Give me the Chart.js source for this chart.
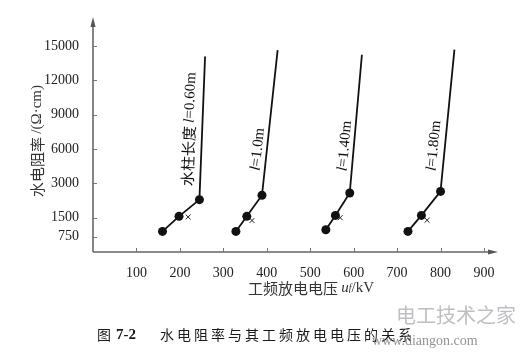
<!DOCTYPE html>
<html>
<head>
<meta charset="utf-8">
<script src="https://cdn.jsdelivr.net/npm/chart.js@4/dist/chart.umd.min.js"></script>
<style>
  html, body { margin: 0; padding: 0; background: #fff; }
  canvas { display: block; }
</style>
</head>
<body>
<canvas id="chart" width="520" height="354"></canvas>
<script>
// 軸の目盛り
const xTickValues = [100, 200, 300, 400, 500, 600, 700, 800, 900];
const yTickValues = [750, 1500, 3000, 6000, 9000, 12000, 15000];
const yTickLabels = ["750", "1500", "3000", "6000", "9000", "12000", "15000"];

// 水柱の長さごとの測定値 (工频放电电压 kV, 水电阻率 Ω·cm)
const voltage060 = [160, 198, 245, 258];
const resist060 = [955, 1560, 2290, 14100];
const voltage100 = [329, 354, 389, 425];
const resist100 = [955, 1560, 2480, 14650];
const voltage140 = [536, 558, 591, 619];
const resist140 = [1020, 1600, 2580, 14250];
const voltage180 = [725, 756, 800, 832];
const resist180 = [955, 1600, 2650, 14700];

// ×印の点
const crossVoltage = [219, 366, 569, 769];
const crossResist = [1530, 1390, 1500, 1400];

const lineLabels = [
  ["水柱长度 ", "l", "=0.60m"],
  ["", "l", "=1.0m"],
  ["", "l", "=1.40m"],
  ["", "l", "=1.80m"],
];

// 縦軸は等間隔ではないので、目盛りの位置を段で決める
const yAxisKnots = [0, 750, 1500, 3000, 6000, 9000, 12000, 15000];
const yAxisSlots = [-1, -0.55, 0, 1, 2, 3, 4, 5];

function toSlot(v) {
  for (let i = 1; i < yAxisKnots.length; i++) {
    if (v <= yAxisKnots[i] || i === yAxisKnots.length - 1) {
      const a = yAxisKnots[i - 1], b = yAxisKnots[i];
      const t = (v - a) / (b - a);
      return yAxisSlots[i - 1] + t * (yAxisSlots[i] - yAxisSlots[i - 1]);
    }
  }
}

const SERIF = "'Liberation Serif', 'DejaVu Serif', serif";
const CJK = "'Noto Sans CJK SC', sans-serif";

const seriesList = [
  [voltage060, resist060],
  [voltage100, resist100],
  [voltage140, resist140],
  [voltage180, resist180],
];

const lineSets = seriesList.map(([xs, ys]) => ({
  data: xs.map((x, i) => ({ x: x, y: toSlot(ys[i]) })),
  showLine: true,
  borderColor: "#111",
  borderWidth: 1.8,
  backgroundColor: "#111",
  pointRadius: [4.5, 4.5, 4.5, 0],
  pointBorderWidth: 0,
}));

const crossSet = {
  data: crossVoltage.map((x, i) => ({ x: x, y: toSlot(crossResist[i]) })),
  showLine: false,
  pointStyle: "crossRot",
  pointRadius: 3.5,
  borderColor: "#222",
  borderWidth: 1,
};

// 注釈ラベルの位置 (線上の抵抗率と線からの距離)
const labelAt = [7700, 5900, 6200, 6200];
const labelGap = [13, 9, 9, 11];

function drawParts(ctx, parts, fonts, cx, cy) {
  let total = 0;
  const widths = parts.map((p, i) => {
    ctx.font = fonts[i];
    const w = ctx.measureText(p).width;
    total += w;
    return w;
  });
  let x = cx - total / 2;
  parts.forEach((p, i) => {
    ctx.font = fonts[i];
    ctx.fillText(p, x, cy);
    x += widths[i];
  });
}

const decorPlugin = {
  id: "decor",
  afterDraw(chart) {
    const ctx = chart.ctx;
    const area = chart.chartArea;
    const xs = chart.scales.x;
    const ys = chart.scales.y;
    const ox = area.left, oy = area.bottom;

    ctx.save();
    // 軸と矢印
    ctx.strokeStyle = "#666";
    ctx.fillStyle = "#555";
    ctx.lineWidth = 1.6;
    ctx.beginPath();
    ctx.moveTo(ox, oy);
    ctx.lineTo(ox, area.top + 6);
    ctx.moveTo(ox, oy);
    ctx.lineTo(area.right - 6, oy);
    ctx.stroke();
    ctx.beginPath();
    ctx.moveTo(ox, area.top);
    ctx.lineTo(ox - 2.6, area.top + 10);
    ctx.lineTo(ox + 2.6, area.top + 10);
    ctx.closePath();
    ctx.fill();
    ctx.beginPath();
    ctx.moveTo(area.right + 1, oy);
    ctx.lineTo(area.right - 9, oy - 2.6);
    ctx.lineTo(area.right - 9, oy + 2.6);
    ctx.closePath();
    ctx.fill();

    // 内向きの目盛り線
    ctx.lineWidth = 1;
    ctx.strokeStyle = "#777";
    ctx.beginPath();
    xTickValues.forEach((v) => {
      const px = Math.round(xs.getPixelForValue(v)) + 0.5;
      ctx.moveTo(px, oy);
      ctx.lineTo(px, oy - 4);
    });
    yTickValues.forEach((v) => {
      const py = Math.round(ys.getPixelForValue(toSlot(v))) + 0.5;
      ctx.moveTo(ox, py);
      ctx.lineTo(ox + 4, py);
    });
    ctx.stroke();

    // 各線の注釈 (線に沿って回転)
    ctx.fillStyle = "#111";
    ctx.textBaseline = "middle";
    seriesList.forEach(([vx, vy], i) => {
      const x1 = xs.getPixelForValue(vx[2]), y1 = ys.getPixelForValue(toSlot(vy[2]));
      const x2 = xs.getPixelForValue(vx[3]), y2 = ys.getPixelForValue(toSlot(vy[3]));
      const py = ys.getPixelForValue(toSlot(labelAt[i]));
      const px = x1 + ((py - y1) / (y2 - y1)) * (x2 - x1);
      const angle = Math.atan2(y2 - y1, x2 - x1);
      ctx.save();
      ctx.translate(px, py);
      ctx.rotate(angle);
      drawParts(ctx, lineLabels[i], [
        "15px " + CJK,
        "italic 15px " + SERIF,
        "15px " + SERIF,
      ], 0, -labelGap[i]);
      ctx.restore();
    });

    // 縦軸タイトル
    ctx.fillStyle = "#333";
    ctx.save();
    ctx.translate(37, 141);
    ctx.rotate(-Math.PI / 2);
    drawParts(ctx, ["水电阻率 ", "/(Ω·cm)"], ["15px " + CJK, "15px " + SERIF], 0, 0);
    ctx.restore();

    // 横軸タイトル
    drawParts(ctx, ["工频放电电压 ", "u", "f", "/kV"],
      ["15px " + CJK, "italic 15px " + SERIF, "italic 10px " + SERIF, "15px " + SERIF], 311, 288);

    // 図のキャプション
    ctx.fillStyle = "#1a1a1a";
    ctx.textAlign = "left";
    ctx.font = "14px " + CJK;
    ctx.fillText("图", 97, 335);
    ctx.font = "bold 15px " + SERIF;
    ctx.fillText("7-2", 116, 335);
    ctx.font = "14px " + CJK;
    const caption = "水电阻率与其工频放电电压的关系";
    [...caption].forEach((ch, i) => ctx.fillText(ch, 160 + i * 17, 335));

    // 透かし
    ctx.fillStyle = "rgba(170,170,175,0.75)";
    ctx.font = "20px " + CJK;
    ctx.fillText("电工技术之家", 396, 315);
    ctx.fillStyle = "rgba(120,120,120,0.8)";
    ctx.font = "14px " + SERIF;
    ctx.fillText("www.diangon.com", 372, 341);
    ctx.restore();
  },
};

new Chart(document.getElementById("chart").getContext("2d"), {
  type: "scatter",
  data: { datasets: [...lineSets, crossSet] },
  options: {
    responsive: false,
    animation: false,
    devicePixelRatio: 1,
    layout: { padding: { top: 17, right: 23, left: 0, bottom: 0 } },
    scales: {
      x: {
        type: "linear",
        min: 0,
        max: 930,
        grid: { display: false },
        border: { display: false },
        afterBuildTicks: (scale) => {
          scale.ticks = xTickValues.map((v) => ({ value: v }));
        },
        afterFit: (scale) => {
          scale.height = 102;
        },
        ticks: {
          autoSkip: false,
          maxRotation: 0,
          padding: 5,
          color: "#222",
          font: { family: SERIF, size: 14 },
          callback: (v) => String(v),
        },
      },
      y: {
        type: "linear",
        min: -1,
        max: 5.85,
        grid: { display: false },
        border: { display: false },
        afterBuildTicks: (scale) => {
          scale.ticks = yTickValues.map((v) => ({ value: toSlot(v) }));
        },
        afterFit: (scale) => {
          scale.width = 93;
        },
        ticks: {
          autoSkip: false,
          padding: 6,
          color: "#222",
          font: { family: SERIF, size: 14 },
          callback: (v, i) => yTickLabels[i],
        },
      },
    },
    plugins: {
      legend: { display: false },
      tooltip: { enabled: false },
    },
  },
  plugins: [decorPlugin],
});
</script>
</body>
</html>
